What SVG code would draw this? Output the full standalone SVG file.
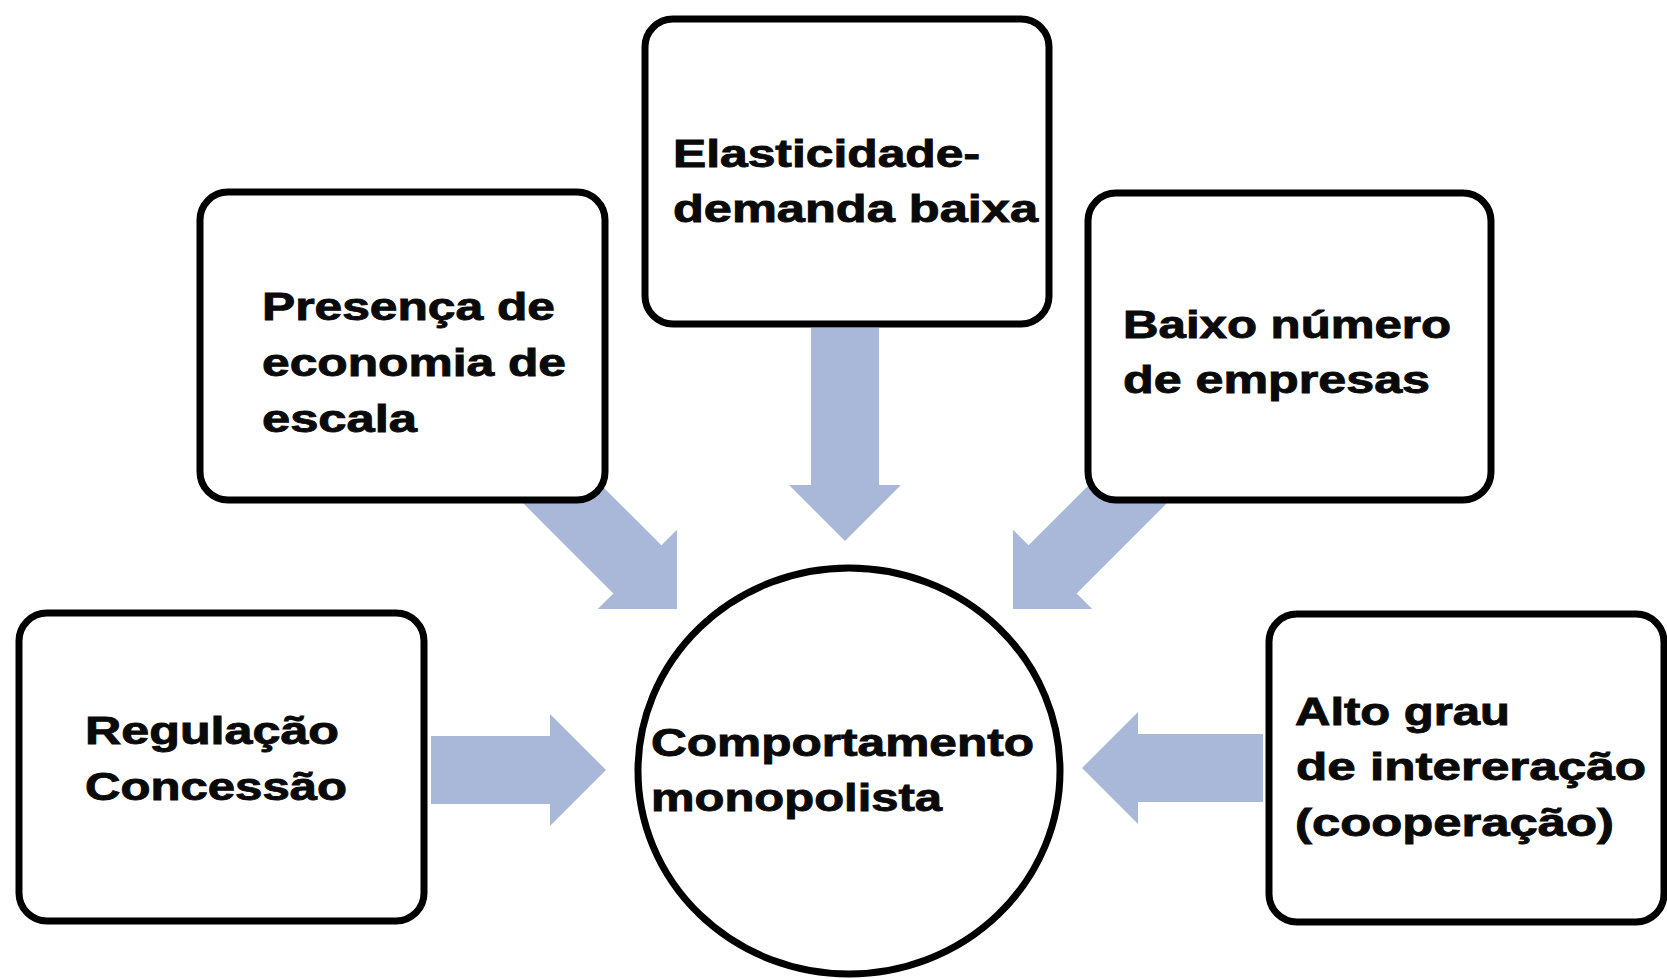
<svg xmlns="http://www.w3.org/2000/svg" width="1667" height="979" viewBox="0 0 1667 979">
  <style>
    .box { fill: #ffffff; stroke: #000000; stroke-width: 7; }
    .arrow { fill: #A9B7D9; stroke: none; }
    .lbl { font-family: "Liberation Sans", Arial, sans-serif; font-weight: bold; font-size: 38px; fill: #0a0a0a; stroke: #0a0a0a; stroke-width: 0.9; }
  </style>
  <rect width="1667" height="979" fill="#ffffff"/>
  <g id="connectors">
    <!-- Regulação -> centre -->
    <path class="arrow" transform="translate(606 770)" d="M0 0 L-56 -56 L-56 -34 L-175 -34 L-175 34 L-56 34 L-56 56 Z"/>
    <!-- Alto grau -> centre -->
    <path class="arrow" transform="translate(1082 768) rotate(180)" d="M0 0 L-56 -56 L-56 -34 L-181 -34 L-181 34 L-56 34 L-56 56 Z"/>
    <!-- Elasticidade -> centre -->
    <path class="arrow" transform="translate(845 541) rotate(90)" d="M0 0 L-56 -56 L-56 -34 L-213 -34 L-213 34 L-56 34 L-56 56 Z"/>
    <!-- Presença -> centre -->
    <path class="arrow" transform="translate(677 609) rotate(45)" d="M0 0 L-56 -56 L-56 -34 L-200 -34 L-200 34 L-56 34 L-56 56 Z"/>
    <!-- Baixo número -> centre -->
    <path class="arrow" transform="translate(1013 609) rotate(135)" d="M0 0 L-56 -56 L-56 -34 L-200 -34 L-200 34 L-56 34 L-56 56 Z"/>
  </g>
  <g id="node-elasticidade">
    <rect class="box" x="645" y="19" width="404" height="305" rx="28" ry="28"/>
    <text class="lbl" x="673" y="167" textLength="307" lengthAdjust="spacingAndGlyphs">Elasticidade-</text>
    <text class="lbl" x="673" y="222" textLength="365" lengthAdjust="spacingAndGlyphs">demanda baixa</text>
  </g>
  <g id="node-presenca">
    <rect class="box" x="200" y="192" width="405" height="308" rx="28" ry="28"/>
    <text class="lbl" x="262" y="320" textLength="293" lengthAdjust="spacingAndGlyphs">Presença de</text>
    <text class="lbl" x="262" y="376" textLength="304" lengthAdjust="spacingAndGlyphs">economia de</text>
    <text class="lbl" x="262" y="432" textLength="155" lengthAdjust="spacingAndGlyphs">escala</text>
  </g>
  <g id="node-baixo">
    <rect class="box" x="1088" y="193" width="403" height="307" rx="28" ry="28"/>
    <text class="lbl" x="1123" y="338" textLength="328" lengthAdjust="spacingAndGlyphs">Baixo número</text>
    <text class="lbl" x="1123" y="393" textLength="307" lengthAdjust="spacingAndGlyphs">de empresas</text>
  </g>
  <g id="node-regulacao">
    <rect class="box" x="19" y="613" width="405" height="308" rx="28" ry="28"/>
    <text class="lbl" x="85" y="744" textLength="254" lengthAdjust="spacingAndGlyphs">Regulação</text>
    <text class="lbl" x="85" y="800" textLength="262" lengthAdjust="spacingAndGlyphs">Concessão</text>
  </g>
  <g id="node-alto">
    <rect class="box" x="1269" y="614" width="395" height="308" rx="28" ry="28"/>
    <text class="lbl" x="1295" y="725" textLength="215" lengthAdjust="spacingAndGlyphs">Alto grau</text>
    <text class="lbl" x="1296" y="780" textLength="350" lengthAdjust="spacingAndGlyphs">de intereração</text>
    <text class="lbl" x="1295" y="836" textLength="319" lengthAdjust="spacingAndGlyphs">(cooperação)</text>
  </g>
  <g id="node-comportamento">
    <ellipse class="box" cx="849" cy="771" rx="211" ry="203"/>
    <text class="lbl" x="651" y="756" textLength="383" lengthAdjust="spacingAndGlyphs">Comportamento</text>
    <text class="lbl" x="651" y="811" textLength="291" lengthAdjust="spacingAndGlyphs">monopolista</text>
  </g>
</svg>
